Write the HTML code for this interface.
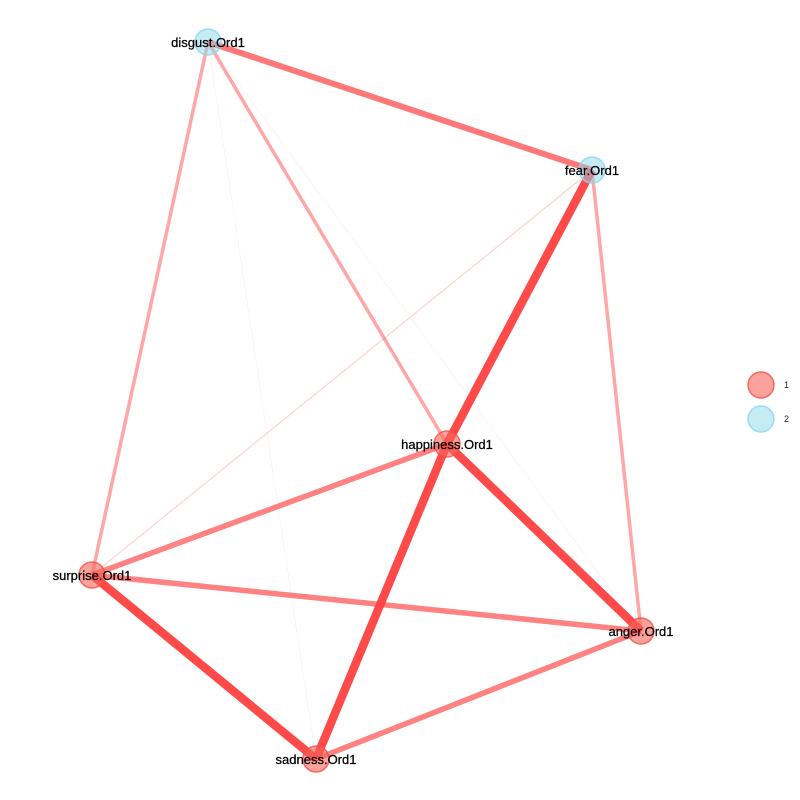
<!DOCTYPE html>
<html><head><meta charset="utf-8"><style>
html,body{margin:0;padding:0;background:#fff;}
svg{display:block;font-family:"Liberation Sans",Arial,sans-serif;}
</style></head><body>
<svg id="chart" width="800" height="800" viewBox="0 0 800 800">
<g id="edges"></g>
<g id="nodes"></g>
<g id="legend">
 <circle cx="761" cy="385" r="13" fill="rgba(248,100,90,0.6)" stroke="rgba(240,80,70,0.8)" stroke-width="1.5"/>
 <text x="784" y="388" font-size="9" fill="#222">1</text>
 <circle cx="761" cy="419" r="13" fill="rgba(140,215,235,0.5)" stroke="rgba(140,215,235,0.8)" stroke-width="1.5"/>
 <text x="784" y="422" font-size="9" fill="#222">2</text>
</g>
</svg>
<script>
const nodeNames = ["disgust.Ord1","fear.Ord1","happiness.Ord1","surprise.Ord1","anger.Ord1","sadness.Ord1"];
const nodeX = [208,592,447,92,641,316];
const nodeY = [42,170,444,575,631,759];
const nodeGroup = [2,2,1,1,1,1];
const edgeFrom = [0,1,2,2,3,3,3,5,0,0,1,1,0,0];
const edgeTo   = [1,2,4,5,5,2,4,4,3,2,4,3,4,5];
const edgeWeight = [0.6,0.85,0.85,0.85,0.85,0.55,0.55,0.55,0.35,0.35,0.35,0.12,0.05,0.02];
const NS="http://www.w3.org/2000/svg";
const eg=document.getElementById('edges'), ng=document.getElementById('nodes');
for(let i=0;i<edgeFrom.length;i++){
  const w=edgeWeight[i];
  const l=document.createElementNS(NS,'line');
  l.setAttribute('x1',nodeX[edgeFrom[i]]);l.setAttribute('y1',nodeY[edgeFrom[i]]);
  l.setAttribute('x2',nodeX[edgeTo[i]]);l.setAttribute('y2',nodeY[edgeTo[i]]);
  l.setAttribute('stroke','#ff3c3c');
  l.setAttribute('stroke-opacity',Math.min(1,0.12+w*0.95));
  l.setAttribute('stroke-width',Math.max(0.5,w*10));
  
  
  eg.appendChild(l);
}
for(let i=0;i<nodeNames.length;i++){
  const c=document.createElementNS(NS,'circle');
  c.setAttribute('cx',nodeX[i]);c.setAttribute('cy',nodeY[i]);c.setAttribute('r',13);
  if(nodeGroup[i]===1){c.setAttribute('fill','rgba(248,100,90,0.6)');c.setAttribute('stroke','rgba(240,80,70,0.8)');}
  else{c.setAttribute('fill','rgba(140,215,235,0.5)');c.setAttribute('stroke','rgba(140,215,235,0.8)');}
  c.setAttribute('stroke-width',1.5);
  
  
  ng.appendChild(c);
  const t=document.createElementNS(NS,'text');
  t.setAttribute('x',nodeX[i]);t.setAttribute('y',nodeY[i]+5);
  t.setAttribute('text-anchor','middle');t.setAttribute('font-size',13);t.setAttribute('fill','#000');
  t.setAttribute('stroke','#000');t.setAttribute('stroke-width',0.25);
  t.textContent=nodeNames[i];
  
  
  ng.appendChild(t);
}
</script>
</body></html>
